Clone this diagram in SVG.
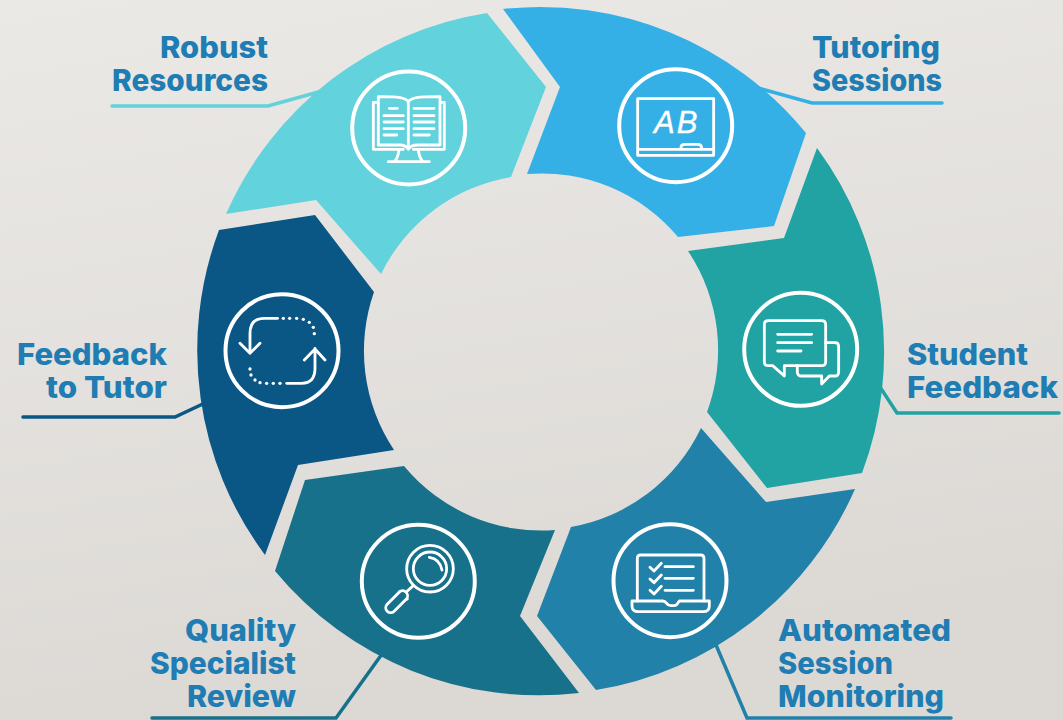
<svg xmlns="http://www.w3.org/2000/svg" width="1063" height="720" viewBox="0 0 1063 720">
<style>
.lbl{font-family:"Inter","Liberation Sans",sans-serif;font-weight:800;font-size:30px;fill:#207db3}
.e{text-anchor:end}
.lead{fill:none;stroke-width:3.5;stroke-linecap:round}
.ring{fill:none;stroke:#fff;stroke-width:4}
.ic{fill:none;stroke:#fff;stroke-width:8.5;stroke-linecap:round;stroke-linejoin:round}
.dot{fill:#fff}
</style>
<defs><linearGradient id="bg" x1="0" y1="0" x2="0.25" y2="1"><stop offset="0" stop-color="#ebe9e6"/><stop offset="1" stop-color="#dcd9d5"/></linearGradient></defs>
<rect width="1063" height="720" fill="url(#bg)"/>
<g id="connectors">
<path class="lead" stroke="#62d2dc" d="M112 106H268L322 91"/>
<path class="lead" stroke="#35b0e6" d="M942 103H812L758 88"/>
<path class="lead" stroke="#21a2a3" d="M1059 413H897L878 384"/>
<path class="lead" stroke="#2181a9" d="M951 718H747L716 645"/>
<path class="lead" stroke="#17718a" d="M152 718H336L382 654"/>
<path class="lead" stroke="#0a5685" d="M23 417H175L207 402"/>
</g>
<g id="robust-resources">
<path fill="#62d2dc" d="M226 214A343 343 0 0 1 487 13L546 87L511 177A178 178 0 0 0 381 274L316 200Z"/>
<circle class="ring" cx="408.7" cy="128" r="56.5"/>
<g class="ic" transform="translate(340 60) scale(.3333)">
<path d="M205 125C195 112 180 110 115 110V255H180C195 255 200 260 205 268M205 125C215 112 230 110 300 110V255H235C215 255 210 260 205 268M205 125V268M113 127H100V268H190M300 127H313V268H220"/>
<path d="M148 145H172M132 167H190M132 186H190M132 206H190M132 225H170M222 145H282M222 167H282M222 186H282M222 206H282M222 225H268"/>
<path d="M177 270C175 285 172 295 165 303M235 270C237 285 240 295 247 303M145 305H268"/>
</g>
<text class="lbl e" x="268" y="58" textLength="108" lengthAdjust="spacingAndGlyphs">Robust</text><text class="lbl e" x="268" y="91" textLength="156" lengthAdjust="spacingAndGlyphs">Resources</text>
</g>
<g id="tutoring-sessions">
<path fill="#35b0e6" d="M503 9A343 343 0 0 1 806 133L774 226L678 237A178 178 0 0 0 527 174L560 87Z"/>
<circle class="ring" cx="675.7" cy="125.7" r="56.5"/>
<g class="ic" transform="translate(605 60) scale(.3333)">
<path d="M98 116H326V286H98ZM98 268H326M228 268V262Q228 253 240 253H278Q290 253 290 265V268"/>
</g>
<text x="654" y="133" style="font-family:'Liberation Sans',sans-serif;font-style:italic;font-size:31px;letter-spacing:2px;fill:#fff;stroke:#fff;stroke-width:.4">AB</text>
<text class="lbl" x="812" y="58" textLength="128" lengthAdjust="spacingAndGlyphs">Tutoring</text><text class="lbl" x="812" y="91" textLength="130" lengthAdjust="spacingAndGlyphs">Sessions</text>
</g>
<g id="student-feedback">
<path fill="#21a2a3" d="M817 148A343 343 0 0 1 862 473L767 488L707 412A178 178 0 0 0 688 251L784 238Z"/>
<circle class="ring" cx="800.7" cy="349.3" r="56.5"/>
<g class="ic" transform="translate(730 280) scale(.3333)">
<path d="M115 122H275Q287 122 287 134V245Q287 257 275 257H163V288L128 257H115Q103 257 103 245V134Q103 122 115 122Z"/>
<path d="M287 188H315Q326 188 326 200V275Q326 288 315 288H298L275 312V288H215Q202 288 202 275V257"/>
<path d="M143 163H245M143 188H245M143 213H213"/>
</g>
<text class="lbl" x="907" y="365" textLength="121" lengthAdjust="spacingAndGlyphs">Student</text><text class="lbl" x="907" y="398" textLength="151" lengthAdjust="spacingAndGlyphs">Feedback</text>
</g>
<g id="automated-session-monitoring">
<path fill="#2181a9" d="M855 489A343 343 0 0 1 596 690L537 616L571 527A178 178 0 0 0 701 428L766 502Z"/>
<circle class="ring" cx="670" cy="580.7" r="56.5"/>
<g class="ic" transform="translate(600 515) scale(.3333)">
<path d="M112 258V130Q112 120 122 120H302Q312 120 312 130V258"/>
<path d="M96 258H188Q195 258 200 265Q205 272 212 272H222Q230 272 235 262L238 258H328V272Q328 290 310 290H115Q96 290 96 272Z"/>
<path d="M150 157L162 168L184 145M150 192L162 203L184 180M150 226L162 237L184 214M195 155H280M195 190H280M195 226H280"/>
</g>
<text class="lbl" x="778" y="641" textLength="173" lengthAdjust="spacingAndGlyphs">Automated</text><text class="lbl" x="778" y="674" textLength="115" lengthAdjust="spacingAndGlyphs">Session</text><text class="lbl" x="778" y="707" textLength="166" lengthAdjust="spacingAndGlyphs">Monitoring</text>
</g>
<g id="quality-specialist-review">
<path fill="#17718a" d="M579 693A343 343 0 0 1 275 571L305 480L404 466A178 178 0 0 0 555 530L520 616Z"/>
<circle class="ring" cx="418.3" cy="581.3" r="56.5"/>
<g class="ic" transform="translate(350 515) scale(.3333)">
<circle cx="240" cy="161" r="70"/><circle cx="240" cy="161" r="50"/>
<path d="M238 127Q270 132 276 165M190 212L172 228"/>
<path d="M148 230L172 252"/>
<path d="M158 242L122 278" stroke-width="38"/>
<path d="M158 242L122 278" stroke="#17718a" stroke-width="21"/>
</g>
<text class="lbl e" x="296" y="641" textLength="111" lengthAdjust="spacingAndGlyphs">Quality</text><text class="lbl e" x="296" y="674" textLength="146" lengthAdjust="spacingAndGlyphs">Specialist</text><text class="lbl e" x="296" y="707" textLength="109" lengthAdjust="spacingAndGlyphs">Review</text>
</g>
<g id="feedback-to-tutor">
<path fill="#0a5685" d="M265 555A343 343 0 0 1 219 230L315 215L374 292A178 178 0 0 0 394 450L298 465Z"/>
<circle class="ring" cx="282" cy="350.7" r="56.5"/>
<g class="ic" transform="translate(215 285) scale(.3333)">
<path d="M188 100H148Q105 100 105 145V205M75 175L105 205L135 175M215 295H260Q300 295 300 250V190M268 225L300 192L330 225"/>
<g class="dot" stroke="none"><circle cx="205" cy="100" r="5"/><circle cx="224" cy="100" r="5"/><circle cx="245" cy="100" r="5"/><circle cx="265" cy="103" r="5"/><circle cx="283" cy="112" r="5"/><circle cx="295" cy="127" r="5"/><circle cx="298" cy="146" r="5"/><circle cx="105" cy="252" r="5"/><circle cx="108" cy="270" r="5"/><circle cx="120" cy="285" r="5"/><circle cx="135" cy="293" r="5"/><circle cx="155" cy="295" r="5"/><circle cx="175" cy="295" r="5"/><circle cx="195" cy="295" r="5"/></g>
</g>
<text class="lbl e" x="167" y="365" textLength="150" lengthAdjust="spacingAndGlyphs">Feedback</text><text class="lbl e" x="167" y="398" textLength="121" lengthAdjust="spacingAndGlyphs">to Tutor</text>
</g>
</svg>
